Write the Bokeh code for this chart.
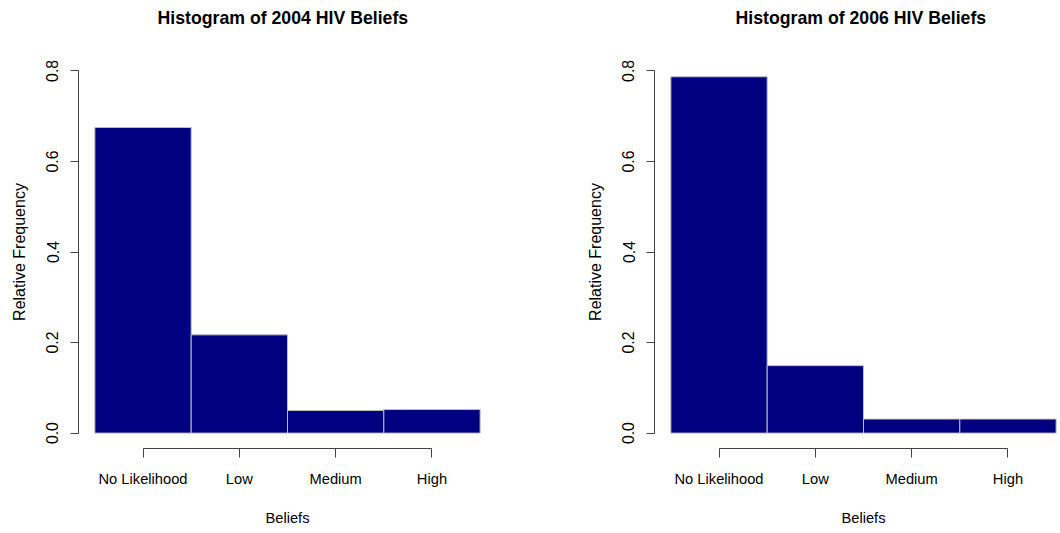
from bokeh.plotting import figure
from bokeh.layouts import row
from bokeh.models import FixedTicker, Range1d, PrintfTickFormatter, Title
from bokeh.embed import file_html
from bokeh.resources import INLINE

categories = ["No Likelihood", "Low", "Medium", "High"]
positions = [1, 2, 3, 4]
freq_2004 = [0.675, 0.217, 0.050, 0.052]
freq_2006 = [0.787, 0.149, 0.031, 0.031]
y_ticks = [0.0, 0.2, 0.4, 0.6, 0.8]
titles = ["Histogram of 2004 HIV Beliefs", "Histogram of 2006 HIV Beliefs"]
x_label = "Beliefs"
y_label = "Relative Frequency"

FONT = "Liberation Sans"
AXIS_COLOR = "#444444"


def make(title, values, width, border_right, title_offset):
    p = figure(width=width, height=533, output_backend="svg", toolbar_location=None,
               title_location=None,
               x_range=Range1d(0.33, 4.67), y_range=Range1d(-0.034, 0.834),
               min_border_left=78, min_border_right=border_right,
               min_border_top=54, min_border_bottom=85,
               background_fill_color="white", border_fill_color="white")
    p.outline_line_color = None
    p.xgrid.grid_line_color = None
    p.ygrid.grid_line_color = None
    p.quad(left=[x - 0.5 for x in positions], right=[x + 0.5 for x in positions],
           bottom=0, top=values, fill_color="#000080", line_color="#bebebe", line_width=1)

    # first "above" item (nearest the frame): a blank white spacer
    p.add_layout(Title(text=" ", text_font_size="12px", standoff=7,
                       text_color="white"), "above")
    # second "above" item, stacked outside the spacer: the visible title
    p.add_layout(Title(text=title, text_font=FONT, text_font_size="17.7px",
                       text_font_style="bold", align="left", offset=title_offset,
                       vertical_align="bottom", text_color="black", standoff=10), "above")

    xa = p.xaxis[0]
    xa.ticker = FixedTicker(ticks=positions)
    xa.major_label_overrides = {pos: cat for pos, cat in zip(positions, categories)}
    xa.bounds = (positions[0], positions[-1])
    xa.axis_label = x_label
    xa.axis_line_color = AXIS_COLOR
    xa.major_tick_line_color = AXIS_COLOR
    xa.minor_tick_line_color = None
    xa.major_tick_in = 0
    xa.major_tick_out = 9
    xa.major_label_standoff = 13
    xa.axis_label_standoff = 20
    xa.major_label_text_font = FONT
    xa.major_label_text_font_size = "14.7px"
    xa.major_label_text_color = "black"
    xa.axis_label_text_font = FONT
    xa.axis_label_text_font_size = "14.7px"
    xa.axis_label_text_font_style = "normal"
    xa.axis_label_text_color = "black"
    xa.axis_label_text_line_height = 1.0
    xa.major_label_text_line_height = 1.0

    ya = p.yaxis[0]
    ya.ticker = FixedTicker(ticks=y_ticks)
    ya.formatter = PrintfTickFormatter(format="%.1f")
    ya.bounds = (y_ticks[0], y_ticks[-1])
    ya.axis_label = y_label
    ya.axis_line_color = AXIS_COLOR
    ya.major_tick_line_color = AXIS_COLOR
    ya.minor_tick_line_color = None
    ya.major_tick_in = 0
    ya.major_tick_out = 8
    ya.major_label_standoff = 12
    ya.major_label_orientation = "vertical"
    ya.axis_label_standoff = 16
    ya.major_label_text_font = FONT
    ya.major_label_text_font_size = "15.8px"
    ya.major_label_text_color = "black"
    ya.axis_label_text_font = FONT
    ya.axis_label_text_font_size = "16px"
    ya.axis_label_text_font_style = "normal"
    ya.axis_label_text_color = "black"
    return p


p1 = make(titles[0], freq_2004, 576, 80, 79)
p2 = make(titles[1], freq_2006, 496, 0, 81)

layout = row(p1, p2, width=1060, height=533, styles={"overflow": "hidden"})

open("out.html", "w").write(file_html(layout, INLINE))
